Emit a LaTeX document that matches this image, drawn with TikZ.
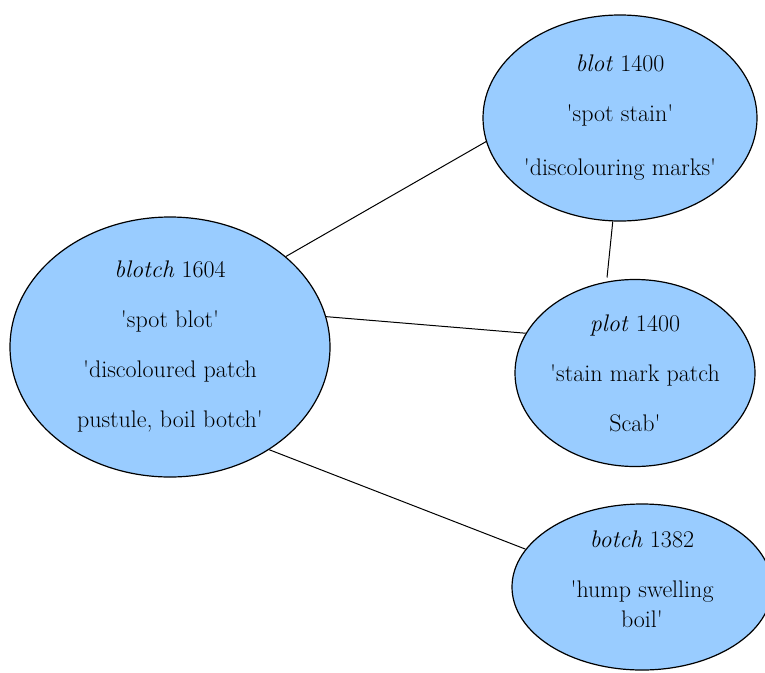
\documentclass[tikz,border=0pt]{standalone}
\usepackage{fontspec}
\usepackage{xcolor}
\usepackage{tikz}
\usetikzlibrary{shapes,positioning}
\definecolor{bubble}{RGB}{153,204,255}
\newcommand\apos{\textquotesingle}

\begin{document}
\begin{tikzpicture}[x=1pt,y=-1pt]
                \tikzstyle{word} = [draw, ellipse, fill=bubble, line width=1.2pt, inner sep=-10pt, align=center, font=\fontsize{24}{30}\selectfont]
                \useasboundingbox (0,0) rectangle (765,672);
                \clip (0,0) rectangle (765,672);

                \node [word, minimum width=320pt, minimum height=260pt] (blotch) at (170,347) {\textit{blotch} 1604\\[20pt] \apos spot blot\apos\\[20pt] \apos discoloured patch\\[20pt] pustule, boil botch\apos};
                \node [word, minimum width=274pt, minimum height=206pt] (blot) at (620,118) {\textit{blot} 1400\\[20pt] \apos spot stain\apos\\[24pt] \apos discolouring marks\apos};
                \node [word, minimum width=240pt, minimum height=187pt] (plot) at (635,373) {\textit{plot} 1400\\[20pt] \apos stain mark patch\\[20pt] Scab\apos};
                \node [word, minimum width=260pt, minimum height=166pt, inner ysep=-25pt, text height=82pt] (botch) at (642,587) {\textit{botch} 1382\\[20pt] \apos hump swelling\\ boil\apos};

                \draw [-, line width=1pt] (blotch.38) -- (blot.190);
                \draw [-, line width=1pt] (blotch.11) -- (plot.160);
                \draw [-, line width=1pt] (blotch.-46) -- (botch.162);
                \draw [-, line width=1pt] (blot.-94) -- ([yshift=4pt]plot.107);
\end{tikzpicture}
\end{document}
